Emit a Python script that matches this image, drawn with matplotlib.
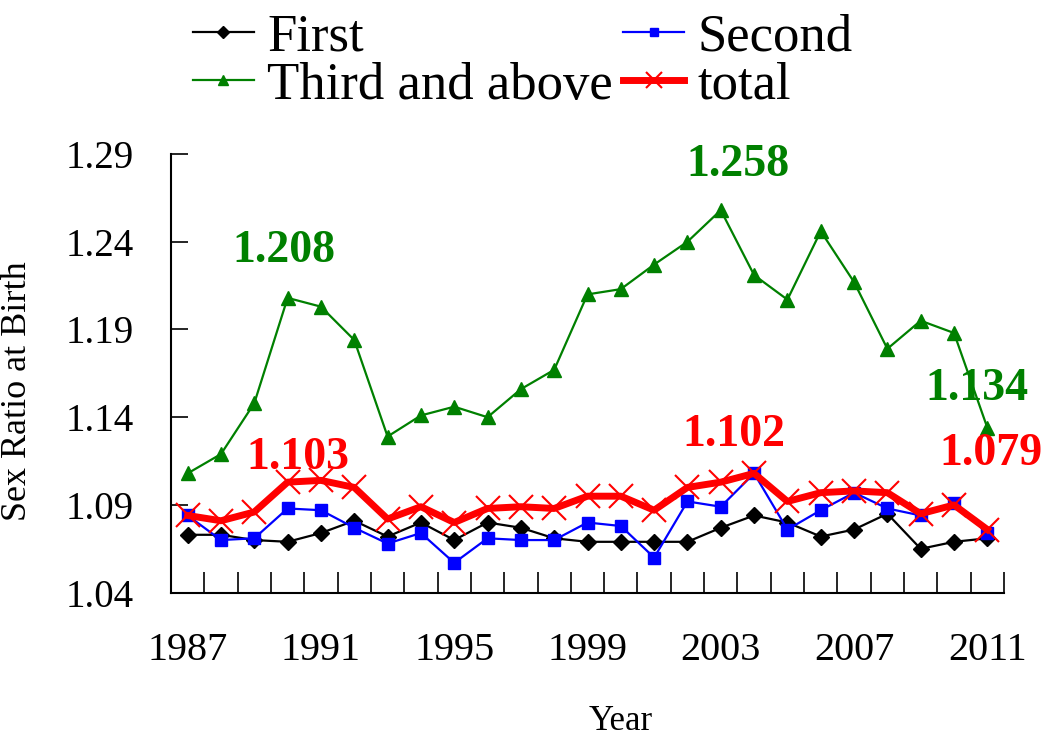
import numpy as np
import matplotlib
matplotlib.use("Agg")
import matplotlib.pyplot as plt

# data
years = np.arange(1987, 2012)
first = [1.073, 1.073, 1.070, 1.069, 1.074, 1.081, 1.072, 1.080, 1.070, 1.080,
         1.077, 1.071, 1.069, 1.069, 1.069, 1.069, 1.077, 1.084, 1.080, 1.072,
         1.076, 1.085, 1.065, 1.069, 1.071]
second = [1.084, 1.070, 1.071, 1.088, 1.087, 1.077, 1.068, 1.074, 1.057, 1.071,
          1.070, 1.070, 1.080, 1.078, 1.060, 1.092, 1.089, 1.108, 1.076, 1.087,
          1.097, 1.088, 1.084, 1.091, 1.074]
third = [1.108, 1.119, 1.148, 1.208, 1.203, 1.184, 1.129, 1.141, 1.146, 1.140,
         1.156, 1.167, 1.210, 1.213, 1.227, 1.240, 1.258, 1.221, 1.207, 1.246,
         1.217, 1.179, 1.195, 1.188, 1.134]
total = [1.084, 1.081, 1.086, 1.103, 1.104, 1.100, 1.082, 1.089, 1.080, 1.088,
         1.089, 1.088, 1.095, 1.095, 1.087, 1.100, 1.103, 1.108, 1.092, 1.097,
         1.098, 1.097, 1.085, 1.090, 1.076]

yticks = [1.04, 1.09, 1.14, 1.19, 1.24, 1.29]
xlabel_years = [1987, 1991, 1995, 1999, 2003, 2007, 2011]

# (text, x, y, colour)
notes = [("1.208", 1989.9, 1.235, "green"),
         ("1.103", 1990.3, 1.117, "red"),
         ("1.258", 2003.5, 1.284, "green"),
         ("1.102", 2003.4, 1.130, "red"),
         ("1.134", 2010.7, 1.156, "green"),
         ("1.079", 2011.1, 1.119, "red")]

plt.rcParams['font.family'] = ['Liberation Serif', 'DejaVu Serif']

fig = plt.figure(figsize=(10.45, 7.4), dpi=100)
ax = fig.add_axes([171 / 1045, 1 - 592.7 / 740, (1004 - 171) / 1045, (592.7 - 154) / 740])

l1, = ax.plot(years, first, color="black", lw=1.6, marker="D", ms=8.5, label="First")
l2, = ax.plot(years, second, color="blue", lw=1.6, marker="s", ms=8.5, label="Second")
l3, = ax.plot(years, third, color="green", lw=1.6, marker="^", ms=10, label="Third and above")
l4, = ax.plot(years, total, color="red", lw=5, marker="x", ms=17, mew=1.5, label="total")

for txt, x, y, c in notes:
    ax.text(x, y, txt, color=c, fontsize=33, fontweight="bold", ha="center", va="center",
            clip_on=False)

ax.set_xlim(1986.5, 2011.5)
ax.set_ylim(1.04, 1.29)
ax.set_yticks(yticks)
ax.set_yticklabels(["%.2f" % v for v in yticks], fontsize=28)
ax.tick_params(axis="y", direction="in", length=12, width=1.2, pad=27)

ax.set_xticks(np.arange(1986.5, 2012.0, 1.0))
ax.set_xticklabels([])
ax.tick_params(axis="x", which="major", direction="in", length=15, width=1.2)
ax.set_xticks(xlabel_years, minor=True)
ax.set_xticklabels([str(y) for y in xlabel_years], minor=True, fontsize=29)
ax.tick_params(axis="x", which="minor", length=0, pad=28)

ax.spines["top"].set_visible(False)
ax.spines["right"].set_visible(False)
ax.spines["left"].set_linewidth(1.5)
ax.spines["bottom"].set_linewidth(1.5)

ax.set_ylabel("Sex Ratio at Birth", fontsize=26)
ax.yaxis.set_label_coords(-0.165, 0.46)
ax.set_xlabel("Year", fontsize=25)
ax.xaxis.set_label_coords(0.54, -0.255)

leg = fig.legend([l1, l3, l2, l4], ["First", "Third and above", "Second", "total"],
                 ncol=2, loc="upper left", bbox_to_anchor=(172 / 1045, 1.01),
                 frameon=False, fontsize=38, handlelength=1.15, handletextpad=0.25,
                 columnspacing=0.2, labelspacing=0.0, markerscale=0.7,
                 borderaxespad=0)

fig.savefig("out.png", dpi=100)
